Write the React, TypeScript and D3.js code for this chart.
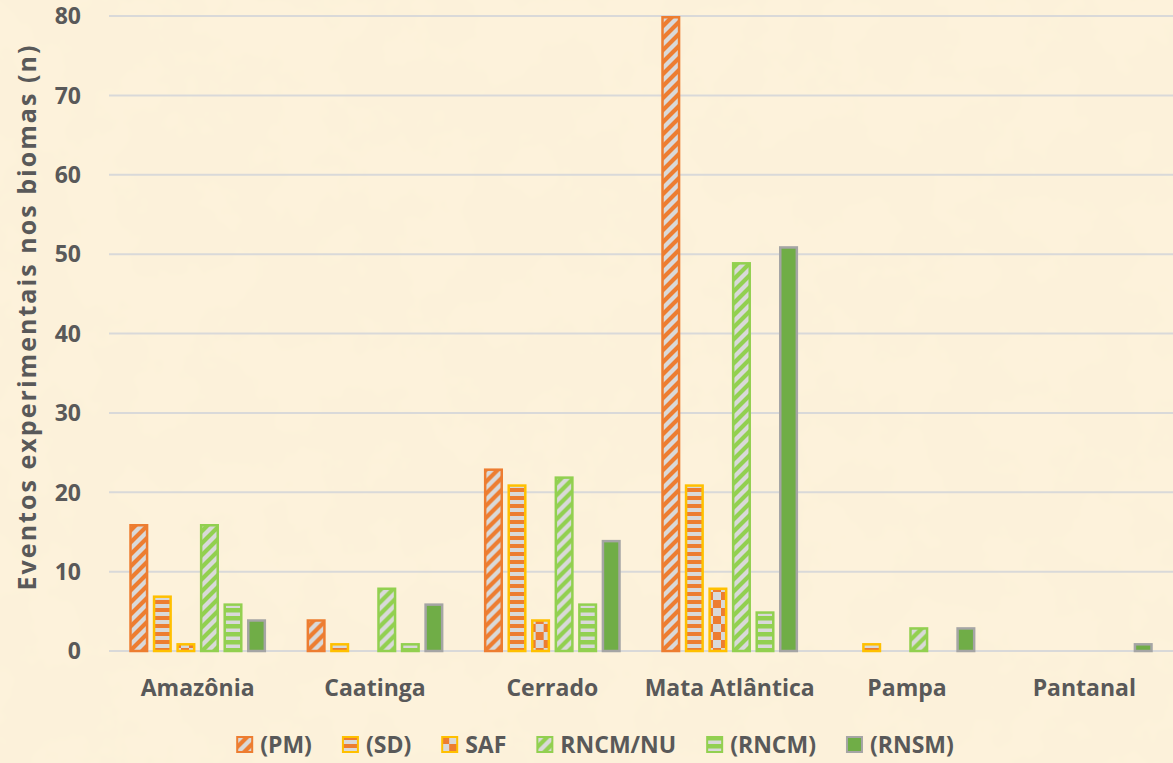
import React from 'react';
import * as d3 from 'd3';

// Data
const biomes = ['Amazônia', 'Caatinga', 'Cerrado', 'Mata Atlântica', 'Pampa', 'Pantanal'];
const seriesNames = ['(PM)', '(SD)', 'SAF', 'RNCM/NU', '(RNCM)', '(RNSM)'];
const pmValues = [16, 4, 23, 80, 0, 0];
const sdValues = [7, 1, 21, 21, 1, 0];
const safValues = [1, 0, 4, 8, 0, 0];
const rncmNuValues = [16, 8, 22, 49, 3, 0];
const rncmValues = [6, 1, 6, 5, 0, 0];
const rnsmValues = [4, 6, 14, 51, 3, 1];
const yTicks = [0, 10, 20, 30, 40, 50, 60, 70, 80];

const seriesValues = [pmValues, sdValues, safValues, rncmNuValues, rncmValues, rnsmValues];

const W = 1173;
const H = 763;
const FONT = '"Open Sans", Lato, sans-serif';
const TEXT = '#595959';
const ORANGE = '#ED7D31';
const GOLD = '#FFC000';
const GREEN = '#92D050';
const GREY = '#D9D9D9';

// fill + stroke for each series
const styles = [
  { fill: 'url(#pm)', stroke: ORANGE },
  { fill: 'url(#sd)', stroke: GOLD },
  { fill: 'url(#saf)', stroke: GOLD },
  { fill: 'url(#rncmnu)', stroke: GREEN },
  { fill: 'url(#rncm)', stroke: GREEN },
  { fill: '#70AD47', stroke: '#A5A5A5' },
];

const measure = (() => {
  let ctx: CanvasRenderingContext2D | null = null;
  return (txt: string, font: string) => {
    if (!ctx) ctx = document.createElement('canvas').getContext('2d');
    if (!ctx) return txt.length * 12;
    ctx.font = font;
    return ctx.measureText(txt).width;
  };
})();

const Patterns = () => (
  <defs>
    <pattern id="pm" patternUnits="userSpaceOnUse" width="12" height="12">
      <rect width="12" height="12" fill={GREY} />
      <path d="M-3,3 L3,-3 M0,12 L12,0 M9,15 L15,9" stroke={ORANGE} strokeWidth="4.2" />
    </pattern>
    <pattern id="rncmnu" patternUnits="userSpaceOnUse" width="12" height="12">
      <rect width="12" height="12" fill={GREY} />
      <path d="M-3,3 L3,-3 M0,12 L12,0 M9,15 L15,9" stroke={GREEN} strokeWidth="4.2" />
    </pattern>
    <pattern id="sd" patternUnits="userSpaceOnUse" width="8" height="8">
      <rect width="8" height="8" fill={GREY} />
      <rect y="0" width="8" height="4" fill={ORANGE} />
    </pattern>
    <pattern id="rncm" patternUnits="userSpaceOnUse" width="8" height="8">
      <rect width="8" height="8" fill={GREY} />
      <rect y="0" width="8" height="4.5" fill={GREEN} />
    </pattern>
    <pattern id="saf" patternUnits="userSpaceOnUse" width="16" height="16">
      <rect width="16" height="16" fill={GREY} />
      <rect x="0" y="0" width="8" height="8" fill={ORANGE} />
      <rect x="8" y="8" width="8" height="8" fill={ORANGE} />
    </pattern>
    <filter id="paper" x="0" y="0" width="100%" height="100%">
      <feTurbulence type="fractalNoise" baseFrequency="0.015" numOctaves="4" seed="7" result="noise" />
      <feColorMatrix type="matrix" values="0 0 0 0 0.95  0 0 0 0 0.86  0 0 0 0 0.68  0 0 0 0.5 -0.1" />
    </filter>
  </defs>
);

export default function App() {
  const margin = { left: 109, right: 0, top: 16, bottom: 112 };
  const plotBottom = H - margin.bottom; // 651

  const x0 = d3.scaleBand<string>().domain(biomes).range([margin.left, W - margin.right]).paddingInner(0).paddingOuter(0);
  const x1 = d3
    .scaleBand<number>()
    .domain(d3.range(seriesNames.length))
    .range([0, x0.bandwidth()])
    .paddingInner(0.19)
    .paddingOuter(0.86);
  const y = d3.scaleLinear().domain([0, 80]).range([plotBottom, margin.top]);

  // legend layout
  const legendSize = 23;
  const legendFont = `bold ${legendSize}px ${FONT}`;
  const sw = 17;
  const swGap = 7;
  const itemGap = 30;
  const widths = seriesNames.map((s) => sw + swGap + measure(s, legendFont));
  const total = d3.sum(widths) + itemGap * (widths.length - 1);
  let lx = 595 - total / 2;
  const legendX = widths.map((w) => {
    const p = lx;
    lx += w + itemGap;
    return p;
  });
  const legendY = 745;

  return (
    <svg width={W} height={H} style={{ position: 'absolute', left: 0, top: 0, display: 'block' }}>
      <Patterns />
      <rect width={W} height={H} fill="#FDF2DB" />
      <rect width={W} height={H} filter="url(#paper)" />

      {/* grid */}
      {yTicks.map((t) => (
        <line key={t} x1={margin.left} x2={W} y1={y(t)} y2={y(t)} stroke="#D9D9D9" strokeWidth={2} />
      ))}

      {/* y tick labels */}
      {yTicks.map((t) => (
        <text
          key={'l' + t}
          x={81}
          y={y(t)}
          dy="0.36em"
          textAnchor="end"
          fontFamily={FONT}
          fontWeight="bold"
          fontSize={23}
          fill={TEXT}
        >
          {t}
        </text>
      ))}

      {/* axis title */}
      <text
        transform="translate(36,318) rotate(-90)"
        textAnchor="middle"
        fontFamily={FONT}
        fontWeight="bold"
        fontSize={25}
        textLength={545}
        lengthAdjust="spacing"
        fill={TEXT}
      >
        Eventos experimentais nos biomas (n)
      </text>

      {/* bars */}
      {biomes.map((b, i) => (
        <g key={b} transform={`translate(${x0(b)},0)`}>
          {seriesValues.map((vals, s) =>
            vals[i] > 0 ? (
              <rect
                key={s}
                x={(x1(s) as number) + 1.25}
                y={y(vals[i]) + 1.25}
                width={x1.bandwidth() - 2.5}
                height={Math.max(0, y(0) - y(vals[i]) - 1.25)}
                fill={styles[s].fill}
                stroke={styles[s].stroke}
                strokeWidth={2.5}
              />
            ) : null
          )}
        </g>
      ))}

      {/* category labels */}
      {biomes.map((b) => (
        <text
          key={'c' + b}
          x={(x0(b) as number) + x0.bandwidth() / 2}
          y={696}
          textAnchor="middle"
          fontFamily={FONT}
          fontWeight="bold"
          fontSize={23}
          fill={TEXT}
        >
          {b}
        </text>
      ))}

      {/* legend */}
      {seriesNames.map((s, i) => (
        <g key={'lg' + s} transform={`translate(${legendX[i]},${legendY - 9})`}>
          <rect
            x={1}
            y={1}
            width={sw - 2}
            height={sw - 2}
            fill={styles[i].fill}
            stroke={styles[i].stroke}
            strokeWidth={2}
          />
          <text
            x={sw + swGap}
            y={sw / 2}
            dy="0.36em"
            fontFamily={FONT}
            fontWeight="bold"
            fontSize={legendSize}
            fill={TEXT}
          >
            {s}
          </text>
        </g>
      ))}
    </svg>
  );
}
